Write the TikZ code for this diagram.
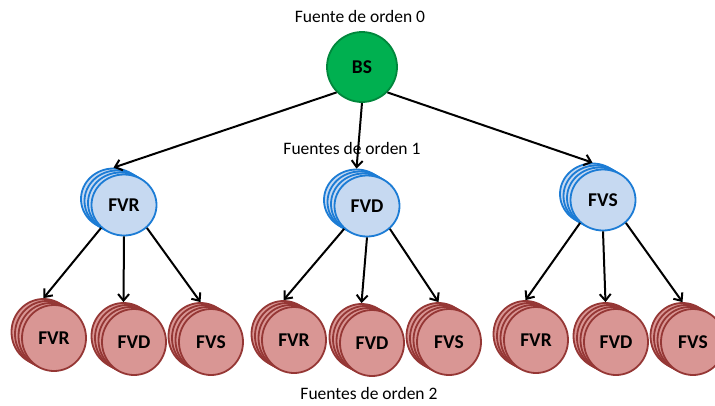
\documentclass[tikz,border=0pt]{standalone}
\usepackage{fontspec}
\setmainfont{Carlito}
\usetikzlibrary{shapes.geometric,arrows.meta}
\definecolor{bsfill}{HTML}{00B050}
\definecolor{bsline}{HTML}{00873C}
\definecolor{bluefill}{HTML}{C6D9F1}
\definecolor{blueline}{HTML}{1C7CD5}
\definecolor{redfill}{HTML}{D99694}
\definecolor{redline}{HTML}{953735}
\tikzset{
  src/.style={ellipse, draw, line width=1.8pt, inner sep=0pt,
    font=\fontsize{19.5}{22}\selectfont\bfseries},
  root/.style={src, fill=bsfill, draw=bsline, minimum width=70pt, minimum height=70pt},
  lvlone/.style={src, fill=bluefill, draw=blueline, minimum width=65pt, minimum height=61pt},
  lvltwo/.style={src, fill=redfill, draw=redline, minimum width=64pt, minimum height=66pt},
  conn/.style={line width=2pt, -{Straight Barb[length=6.5pt,width=11pt]}},
  caption/.style={font=\fontsize{17.5}{20}\selectfont, inner sep=0pt}
}
% A stack of four overlapping sources: three copies behind, the labelled one in front
\newcommand\fstack[5]{%
  \foreach \k in {3,2,1}{%
    \node[#4] (#1-\k) at ({#2-3.5*\k},{#3-2*\k}) {};
  }
  \node[#4] (#1) at (#2,#3) {#5};
}
\begin{document}
\begin{tikzpicture}[x=1pt,y=-1pt]
  \useasboundingbox (0,0) rectangle (715,405);
  \clip (0,0) rectangle (715,405);

  \node[caption] (cap0) at (360,16) {Fuente de orden 0};
  \node[caption] (cap1) at (352,148) {Fuentes de orden 1};
  \node[caption] (cap2) at (369,393) {Fuentes de orden 2};

  \node[root] (bs) at (362,67) {BS};

  \fstack{a}{124}{205}{lvlone}{FVR}
  \fstack{b}{367}{206}{lvlone}{FVD}
  \fstack{c}{603}{200}{lvlone}{FVS}

  \fstack{ar}{54}{338}{lvltwo}{FVR}
  \fstack{ad}{134}{342}{lvltwo}{FVD}
  \fstack{as}{211}{342}{lvltwo}{FVS}
  \fstack{br}{294}{340}{lvltwo}{FVR}
  \fstack{bd}{372}{343}{lvltwo}{FVD}
  \fstack{bs2}{449}{342}{lvltwo}{FVS}
  \fstack{cr}{536}{340}{lvltwo}{FVR}
  \fstack{cd}{616}{342}{lvltwo}{FVD}
  \fstack{cs}{693}{342}{lvltwo}{FVS}

  \draw[conn] (bs.225) -- (a-3.north);
  \draw[conn] (bs.south) -- (b-3.north);
  \draw[conn] (bs.315) -- (c-3.north);

  \draw[conn] (a.225) -- (ar-3.north);
  \draw[conn] (a.south) -- (ad-3.north);
  \draw[conn] (a.315) -- (as-3.north);
  \draw[conn] (b.225) -- (br-3.north);
  \draw[conn] (b.south) -- (bd-3.north);
  \draw[conn] (b.315) -- (bs2-3.north);
  \draw[conn] (c.225) -- (cr-3.north);
  \draw[conn] (c.south) -- (cd-3.north);
  \draw[conn] (c.315) -- (cs-3.north);
\end{tikzpicture}
\end{document}
